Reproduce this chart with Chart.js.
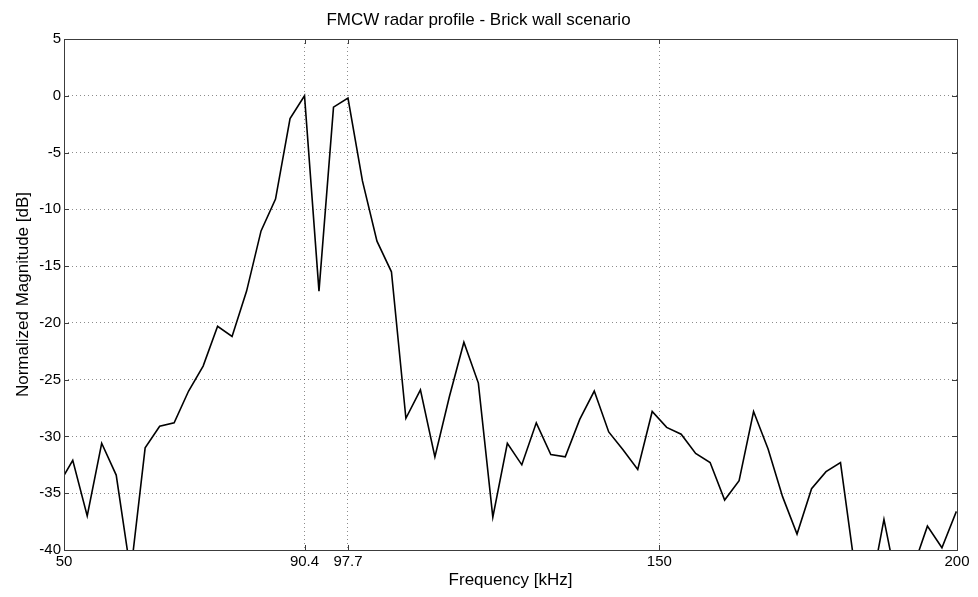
<!DOCTYPE html>
<html>
<head>
<meta charset="utf-8">
<script src="https://cdn.jsdelivr.net/npm/chart.js@4/dist/chart.umd.min.js"></script>
<style>
  body { margin: 0; background: #fff; }
</style>
</head>
<body>
<canvas id="myChart" width="978" height="597"></canvas>
<script>
// frequency bins [kHz]
const freqKHz = [49.03, 51.47, 53.90, 56.33, 58.77, 61.20, 63.63, 66.07, 68.50, 70.93,
    73.37, 75.80, 78.23, 80.67, 83.10, 85.53, 87.97, 90.40, 92.83, 95.27,
    97.70, 100.13, 102.57, 105.00, 107.43, 109.87, 112.30, 114.73, 117.17, 119.60,
    122.03, 124.47, 126.90, 129.33, 131.77, 134.20, 136.63, 139.07, 141.50, 143.93,
    146.37, 148.80, 151.23, 153.67, 156.10, 158.53, 160.97, 163.40, 165.83, 168.27,
    170.70, 173.13, 175.57, 178.00, 180.43, 182.87, 185.30, 187.73, 190.17, 192.60,
    195.03, 197.47, 199.90];

// normalized magnitude [dB]
const magDb = [-34.3, -32.1, -37.0, -30.6, -33.4, -42.0, -31.0, -29.1, -28.8, -26.0,
    -23.8, -20.3, -21.2, -17.2, -11.9, -9.1, -2.0, 0.0, -17.2, -1.0,
    -0.2, -7.5, -12.8, -15.5, -28.4, -25.9, -31.8, -26.5, -21.7, -25.3,
    -37.1, -30.6, -32.5, -28.8, -31.6, -31.8, -28.5, -26.0, -29.6, -31.2,
    -32.9, -27.8, -29.2, -29.8, -31.5, -32.3, -35.6, -33.9, -27.8, -31.1,
    -35.3, -38.6, -34.6, -33.1, -32.3, -41.7, -44.1, -37.3, -43.7, -41.6,
    -37.9, -39.8, -36.6];

const xTicks = [50, 90.4, 97.7, 150, 200];

const points = freqKHz.map((f, i) => ({ x: f, y: magDb[i] }));

// matlab style box with inward tick marks
const boxTicks = {
    id: "boxTicks",
    afterDatasetsDraw(chart) {
        const { ctx, chartArea: a, scales } = chart;
        const len = 5;
        ctx.save();
        ctx.strokeStyle = "#3c3c3c";
        ctx.lineWidth = 1;
        ctx.beginPath();
        scales.x.ticks.forEach(t => {
            const px = Math.round(scales.x.getPixelForValue(t.value)) + 0.5;
            ctx.moveTo(px, a.bottom); ctx.lineTo(px, a.bottom - len);
            ctx.moveTo(px, a.top); ctx.lineTo(px, a.top + len);
        });
        scales.y.ticks.forEach(t => {
            const py = Math.round(scales.y.getPixelForValue(t.value)) + 0.5;
            ctx.moveTo(a.left, py); ctx.lineTo(a.left + len, py);
            ctx.moveTo(a.right, py); ctx.lineTo(a.right - len, py);
        });
        ctx.stroke();
        ctx.strokeRect(Math.round(a.left) + 0.5, Math.round(a.top) + 0.5,
            Math.round(a.right - a.left), Math.round(a.bottom - a.top));
        ctx.restore();
    }
};

const fontFamily = "'Liberation Sans', Arial, sans-serif";
const gridColor = "rgba(0,0,0,0.45)";

var ctx = document.getElementById("myChart").getContext("2d");
var myChart = new Chart(ctx, {
    type: "line",
    data: {
        datasets: [
            {
                label: "profile",
                data: points,
                borderColor: "#000",
                borderWidth: 1.6,
                pointRadius: 0,
                tension: 0,
                fill: false
            }
        ]
    },
    options: {
        responsive: false,
        animation: false,
        layout: { padding: { left: 0, right: 21, top: 0, bottom: 0 } },
        plugins: {
            legend: { display: false },
            tooltip: { enabled: false },
            title: {
                display: true,
                text: "FMCW radar profile - Brick wall scenario",
                color: "#000",
                font: { family: fontFamily, size: 17, weight: "normal" },
                padding: { top: 10, bottom: 8.6 }
            }
        },
        scales: {
            x: {
                type: "linear",
                min: 50,
                max: 200,
                afterBuildTicks: scale => {
                    scale.ticks = xTicks.map(v => ({ value: v }));
                },
                afterFit: scale => { scale.height = 47; },
                ticks: {
                    color: "#000",
                    padding: 3,
                    maxRotation: 0,
                    autoSkip: false,
                    font: { family: fontFamily, size: 15 },
                    callback: v => String(v)
                },
                grid: {
                    drawTicks: false,
                    color: c => (c.tick && (c.tick.value === 50 || c.tick.value === 200)) ? "rgba(0,0,0,0)" : gridColor,
                    lineWidth: 1
                },
                border: { display: false, dash: [1, 3] },
                title: {
                    display: true,
                    text: "Frequency [kHz]",
                    color: "#000",
                    font: { family: fontFamily, size: 17 },
                    padding: { top: 0, bottom: 6 }
                }
            },
            y: {
                min: -40,
                max: 5,
                afterFit: scale => { scale.width = 64; },
                ticks: {
                    stepSize: 5,
                    color: "#000",
                    padding: 3,
                    font: { family: fontFamily, size: 15 }
                },
                grid: {
                    drawTicks: false,
                    color: c => (c.tick && (c.tick.value === 5 || c.tick.value === -40)) ? "rgba(0,0,0,0)" : gridColor,
                    lineWidth: 1
                },
                border: { display: false, dash: [1, 3] },
                title: {
                    display: true,
                    text: "Normalized Magnitude [dB]",
                    color: "#000",
                    font: { family: fontFamily, size: 17 },
                    padding: { top: 13, bottom: 0 }
                }
            }
        }
    },
    plugins: [boxTicks]
});
</script>
</body>
</html>
